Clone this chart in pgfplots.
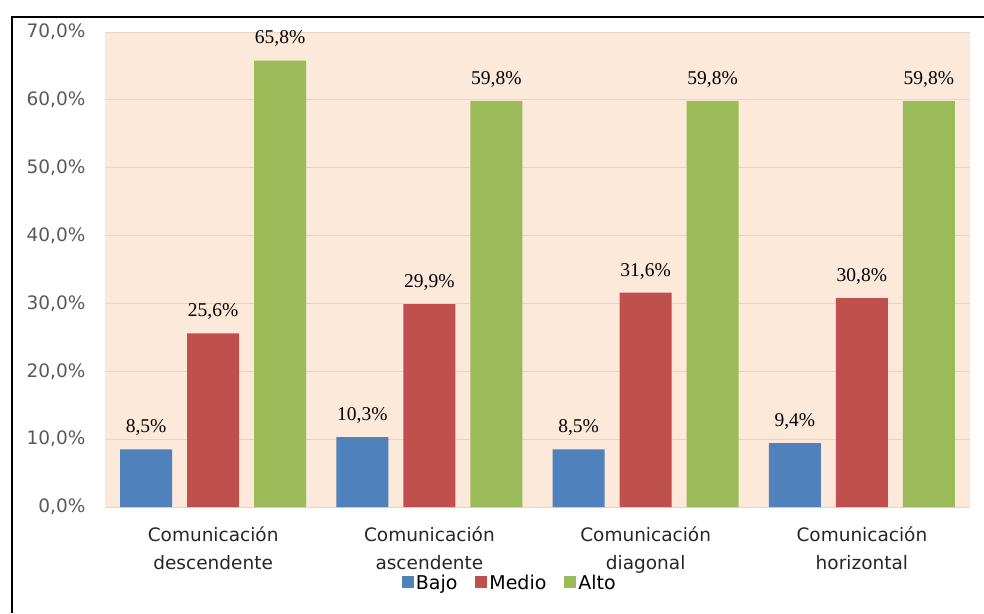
\documentclass[border=0pt]{standalone}
\usepackage{fontspec}
\setmainfont{DejaVu Sans}
\newfontfamily\seriffont{Liberation Serif}
\usepackage{pgfplots}
\pgfplotsset{compat=1.18}
\definecolor{cBajo}{HTML}{4F81BD}
\definecolor{cMedio}{HTML}{C0504D}
\definecolor{cAlto}{HTML}{9BBB59}
\definecolor{peach}{HTML}{FCE9DA}
\definecolor{gridc}{HTML}{E9D3C3}
\definecolor{tickc}{HTML}{595959}
\begin{document}
\begin{tikzpicture}[x=1pt,y=1pt]
\useasboundingbox (0,0) rectangle (984,613);
\draw[line width=2pt] (12,0) -- (12,596) -- (984,596);
\begin{axis}[at={(105pt,106pt)}, anchor=south west, scale only axis,
  width=865pt, height=475pt,
  xmin=-0.5, xmax=3.5, ymin=0, ymax=70,
  ybar=15pt, bar width=52pt,
  /pgf/number format/assume math mode=true,
  axis line style={draw=none}, major tick length=0pt,
  ymajorgrids, grid style={gridc, line width=1pt},
  axis background/.style={fill=peach},
  ytick={0,10,20,30,40,50,60,70},
  yticklabels={{0,0\%},{10,0\%},{20,0\%},{30,0\%},{40,0\%},{50,0\%},{60,0\%},{70,0\%}},
  yticklabel style={font=\fontsize{18.5}{21}\selectfont, text=tickc, xshift=-16pt},
  xtick={0,1,2,3},
  xticklabels={{Comunicación\\descendente},{Comunicación\\ascendente},{Comunicación\\diagonal},{Comunicación\\horizontal}},
  xticklabel style={align=center, font=\fontsize{18.5}{28}\selectfont, text=black!85, yshift=-16pt},
  nodes near coords={\pgfmathprintnumber[fixed,fixed zerofill,precision=1,use comma,assume math mode=true]{\pgfplotspointmeta}\%},
  nodes near coords style={font=\seriffont\fontsize{19.5}{22}\selectfont, anchor=south, yshift=10pt, text=black},
  legend columns=3,
  legend style={at={(0.468,-0.16)}, anchor=center, draw=none, fill=none,
    font=\fontsize{19}{21}\selectfont,
    /tikz/every even column/.append style={column sep=16pt}},
  legend image code/.code={\fill[#1] (0pt,-5pt) rectangle (12pt,7pt);},
]
\addplot[fill=cBajo, draw=none] coordinates {(0,8.5) (1,10.3) (2,8.5) (3,9.4)};
\addplot[fill=cMedio, draw=none] coordinates {(0,25.6) (1,29.9) (2,31.6) (3,30.8)};
\addplot[fill=cAlto, draw=none] coordinates {(0,65.8) (1,59.8) (2,59.8) (3,59.8)};
\legend{Bajo,Medio,Alto}
\end{axis}
\end{tikzpicture}
\end{document}
